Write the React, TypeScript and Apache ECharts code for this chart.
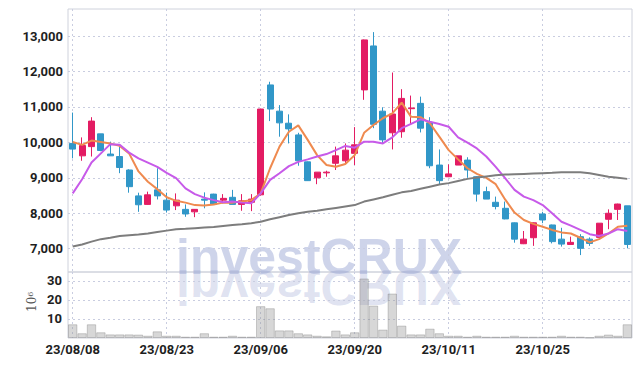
import React, { useEffect, useRef } from "react";
import * as echarts from "echarts";

const dates = [
  "23/08/08","23/08/09","23/08/10","23/08/11","23/08/14","23/08/16","23/08/17","23/08/18","23/08/21","23/08/22",
  "23/08/23","23/08/24","23/08/25","23/08/28","23/08/29","23/08/30","23/08/31","23/09/01","23/09/04","23/09/05",
  "23/09/06","23/09/07","23/09/08","23/09/11","23/09/12","23/09/13","23/09/14","23/09/15","23/09/18","23/09/19",
  "23/09/20","23/09/21","23/09/22","23/09/25","23/09/26","23/09/27","23/10/04","23/10/05","23/10/06","23/10/10",
  "23/10/11","23/10/12","23/10/13","23/10/16","23/10/17","23/10/18","23/10/19","23/10/20","23/10/23","23/10/24",
  "23/10/25","23/10/26","23/10/27","23/10/30","23/10/31","23/11/01","23/11/02","23/11/03","23/11/06","23/11/07",
];

const opens = [
  9970, 9620, 9880, 10240, 9670, 9600, 9220, 8490, 8250, 8660,
  8370, 8210, 8110, 8040, 8400, 8540, 8370, 8450, 8250, 8310,
  8520, 11620, 10880, 10540, 10210, 9450, 9000, 9140, 9410, 9480,
  9690, 11480, 12720, 10880, 10270, 10300, 10950, 11100, 10550, 9360,
  9030, 9360, 9500, 9030, 8610, 8310, 8140, 7730, 7140, 7310,
  7980, 7670, 7270, 7120, 7340, 7270, 7320, 7830, 8110, 8210,
];
const closes = [
  9810, 9910, 10600, 9770, 9620, 9290, 8750, 8240, 8520, 8490,
  8090, 8370, 7980, 8110, 8370, 8250, 8420, 8250, 8350, 8400,
  10940, 10940, 10550, 10380, 9480, 8920, 9160, 9160, 9620, 9780,
  9930, 12890, 10510, 10070, 10800, 11240, 10970, 10400, 9340, 8920,
  9110, 9620, 9220, 8540, 8400, 8190, 7840, 7270, 7270, 7730,
  7810, 7200, 7130, 7180, 7010, 7150, 7720, 8000, 8260, 7120,
];
const lows = [
  9550, 9480, 9600, 9750, 9620, 9130, 8580, 8040, 8240, 8390,
  8020, 8090, 7900, 7890, 8140, 8240, 8280, 8250, 8070, 8060,
  8500, 10600, 10160, 9970, 9340, 8910, 8820, 9030, 9220, 9410,
  9360, 11200, 10400, 9970, 9800, 10130, 10520, 10280, 9270, 8800,
  9020, 9360, 9000, 8330, 8400, 8110, 7830, 7170, 7130, 7080,
  7720, 7150, 7060, 7120, 6820, 7080, 7320, 7550, 7810, 7010,
];
const highs = [
  10840, 10140, 10710, 10240, 10020, 9880, 9240, 8580, 8610, 9270,
  8580, 8560, 8250, 8120, 8590, 8550, 8540, 8660, 8540, 8540,
  10950, 11710, 11050, 10790, 10270, 9460, 9160, 9200, 9880, 9970,
  10430, 12900, 13110, 10990, 11970, 11500, 11320, 11290, 10710, 9800,
  9380, 9620, 9580, 9040, 8750, 8470, 8330, 7740, 7500, 7740,
  8040, 7680, 7590, 7340, 7410, 7320, 7720, 8110, 8270, 8210,
];

const ma5 = [
  10010, 9930, 10050, 10010, 9970, 9900, 9690, 9180, 8890, 8680,
  8450, 8350, 8300, 8230, 8220, 8250, 8300, 8300, 8330, 8370,
  8560, 9270, 9880, 10300, 10480, 10070, 9640, 9360, 9310, 9390,
  9640, 10270, 10490, 10680, 10820, 11120, 10720, 10710, 10540, 10160,
  9780, 9520, 9270, 9110, 9000, 8820, 8390, 8020, 7810, 7700,
  7620, 7530, 7460, 7430, 7310, 7180, 7270, 7430, 7620, 7650,
];
const ma20 = [
  8560, 8960, 9430, 9690, 9950, 9930, 9710, 9550, 9430, 9310,
  9140, 8990, 8700, 8540, 8440, 8370, 8310, 8330, 8300, 8280,
  8560, 8940, 9130, 9330, 9450, 9520, 9600, 9670, 9780, 9900,
  9850, 10020, 10020, 9970, 10140, 10400, 10520, 10650, 10580, 10520,
  10440, 10140, 9990, 9830, 9600, 9310, 8990, 8660, 8470, 8370,
  8230, 8000, 7760, 7650, 7530, 7410, 7360, 7430, 7550, 7500,
];
const ma60 = [
  7060, 7120, 7200, 7270, 7310, 7360, 7380, 7400, 7430, 7470,
  7510, 7550, 7560, 7580, 7600, 7610, 7640, 7670, 7690, 7720,
  7760, 7830, 7890, 7950, 8000, 8040, 8070, 8110, 8150, 8190,
  8230, 8330, 8390, 8450, 8520, 8590, 8630, 8690, 8750, 8810,
  8850, 8910, 8970, 9010, 9040, 9070, 9090, 9100, 9110, 9120,
  9130, 9140, 9160, 9160, 9160, 9130, 9080, 9030, 9000, 8970,
];

// volume, in millions
const volumes = [
  7.2, 2.5, 7.2, 3.0, 1.9, 1.9, 1.9, 1.8, 1.2, 3.5,
  1.2, 1.2, 0.7, 0.7, 2.5, 0.7, 0.7, 1.2, 0.7, 0.7,
  16.7, 15.6, 4.0, 4.0, 2.5, 1.9, 1.2, 0.9, 3.9, 1.9,
  3.0, 31.2, 17.0, 4.4, 23.3, 6.5, 1.9, 1.9, 4.9, 2.5,
  1.2, 1.2, 0.7, 1.2, 0.7, 0.7, 0.7, 1.2, 0.7, 0.7,
  0.7, 0.7, 1.2, 0.7, 0.7, 0.3, 1.2, 1.8, 1.2, 7.2,
];

const priceTicks = [7000, 8000, 9000, 10000, 11000, 12000, 13000];
const volumeTicks = [10, 20, 30];

const UP = "#e31c63";
const DOWN = "#3197c8";
const LABEL_FONT = "Roboto, sans-serif";

export default function App() {
  const ref = useRef<HTMLDivElement>(null);

  useEffect(() => {
    if (!ref.current) return;
    const chart = echarts.init(ref.current, null, { renderer: "svg" });
    const candleData = opens.map((o, i) => [o, closes[i], lows[i], highs[i]]);
    const dotted = { color: "#c9cde0", type: [2, 3] as any, width: 1 };
    const labelStyle = {
      color: "#1e1e1e",
      fontFamily: LABEL_FONT,
      fontWeight: "bold" as const,
      fontSize: 13,
    };

    chart.setOption({
      animation: false,
      backgroundColor: "#ffffff",
      grid: [
        { left: 68, right: 10, top: 9, height: 263, show: true, borderColor: "#cfd2dc", borderWidth: 1 },
        { left: 68, right: 10, top: 272, height: 66, show: true, borderColor: "#cfd2dc", borderWidth: 1 },
      ],
      xAxis: [
        {
          type: "category",
          gridIndex: 0,
          data: dates,
          boundaryGap: true,
          axisLine: { show: false },
          axisTick: { show: false },
          axisLabel: { show: false, interval: 9 },
          splitLine: { show: true, interval: 9, alignWithLabel: true, lineStyle: dotted },
        },
        {
          type: "category",
          gridIndex: 1,
          data: dates,
          boundaryGap: true,
          axisLine: { show: false },
          axisTick: { show: false },
          axisLabel: { show: true, interval: 9, margin: 5, ...labelStyle },
          splitLine: { show: true, interval: 9, alignWithLabel: true, lineStyle: dotted },
        },
      ],
      yAxis: [
        {
          type: "value",
          gridIndex: 0,
          min: 6343,
          max: 13762,
          axisLine: { show: false },
          axisTick: { show: false, customValues: priceTicks },
          axisLabel: {
            customValues: priceTicks,
            margin: 5,
            ...labelStyle,
            formatter: (v: number) => v.toLocaleString("en-US"),
          },
          splitLine: { show: true, lineStyle: dotted },
        },
        {
          type: "value",
          gridIndex: 1,
          min: 0,
          max: 34.6,
          axisLine: { show: false },
          axisTick: { show: false, customValues: volumeTicks },
          axisLabel: { customValues: volumeTicks, margin: 6, ...labelStyle },
          splitLine: { show: true, lineStyle: dotted },
        },
      ],
      graphic: [
        {
          type: "text",
          x: 176,
          y: 282,
          z: 0,
          silent: true,
          style: {
            text: "investCRUX",
            font: 'bold 50px "Liberation Sans", Arial, sans-serif',
            fill: "rgba(165,176,216,0.55)",
            verticalAlign: "bottom",
          },
        },
        {
          type: "group",
          x: 176,
          y: 272,
          scaleY: -1,
          silent: true,
          children: [
            {
              type: "text",
              x: 0,
              y: 10,
              style: {
                text: "investCRUX",
                font: 'bold 50px "Liberation Sans", Arial, sans-serif',
                fill: "rgba(165,176,216,0.36)",
                verticalAlign: "bottom",
              },
            },
          ],
        },
        {
          type: "text",
          x: 26,
          y: 312,
          rotation: Math.PI / 2,
          style: {
            text: "{a|10}{b|6}",
            rich: {
              a: { fontFamily: '"DejaVu Serif", "Liberation Serif", serif', fontSize: 12, fill: "#555", verticalAlign: "bottom" },
              b: { fontFamily: '"DejaVu Serif", "Liberation Serif", serif', fontSize: 8, fill: "#555", verticalAlign: "top" },
            },
            verticalAlign: "top",
          },
        },
      ],
      series: [
        {
          type: "candlestick",
          xAxisIndex: 0,
          yAxisIndex: 0,
          data: candleData,
          barWidth: "68%",
          itemStyle: {
            color: UP,
            color0: DOWN,
            borderColor: UP,
            borderColor0: DOWN,
            borderWidth: 1,
          },
        },
        {
          type: "line",
          xAxisIndex: 0,
          yAxisIndex: 0,
          data: ma5,
          symbol: "none",
          lineStyle: { color: "#ef8a4f", width: 2 },
          z: 3,
        },
        {
          type: "line",
          xAxisIndex: 0,
          yAxisIndex: 0,
          data: ma20,
          symbol: "none",
          lineStyle: { color: "#c75ae9", width: 2 },
          z: 3,
        },
        {
          type: "line",
          xAxisIndex: 0,
          yAxisIndex: 0,
          data: ma60,
          symbol: "none",
          lineStyle: { color: "#7d7d7d", width: 2 },
          z: 3,
        },
        {
          type: "bar",
          xAxisIndex: 1,
          yAxisIndex: 1,
          data: volumes,
          barCategoryGap: "0%",
          itemStyle: {
            color: "rgba(150,150,150,0.38)",
            borderColor: "rgba(120,120,120,0.35)",
            borderWidth: 1,
          },
        },
      ],
    });

    return () => chart.dispose();
  }, []);

  return (
    <div
      ref={ref}
      style={{ position: "fixed", left: 0, top: 0, width: 642, height: 366, background: "#fff" }}
    />
  );
}
